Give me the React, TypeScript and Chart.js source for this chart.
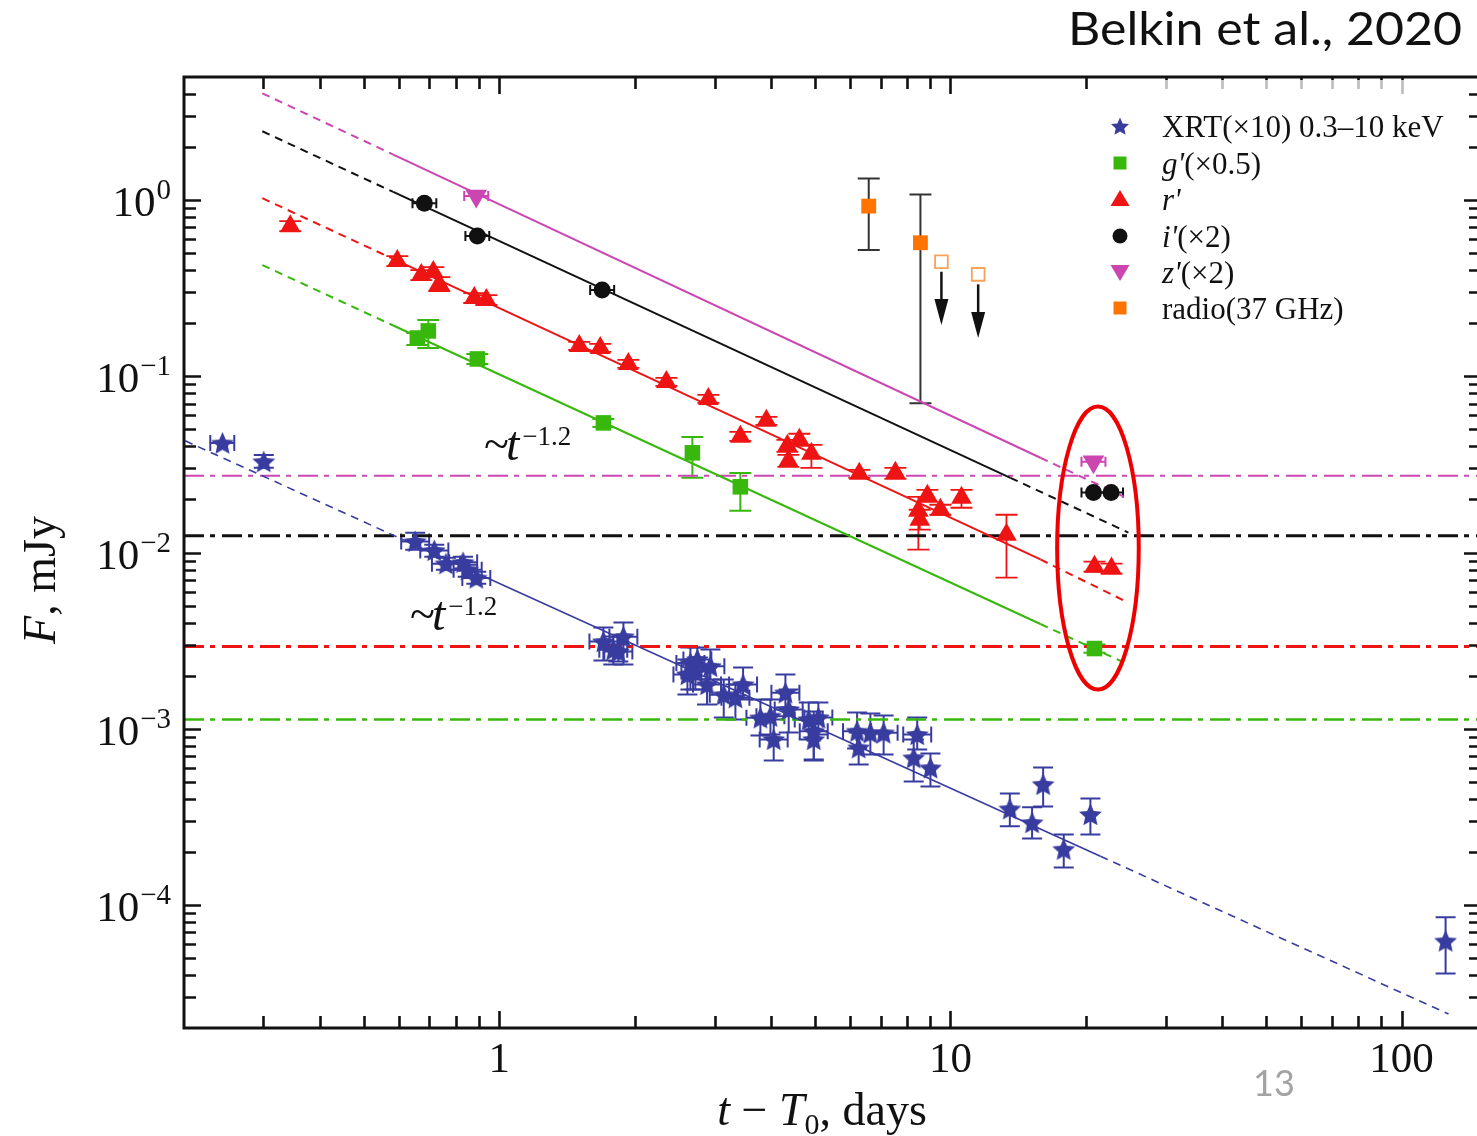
import React, { useEffect, useRef } from "react";
import { Chart, registerables } from "chart.js";

Chart.register(...registerables);

// ---------------- axis ranges & tick labels ----------------
const X_MIN = 0.2;
const X_MAX = 150;
const Y_MIN = 2e-5;
const Y_MAX = 5;
const yTickExps = [0, -1, -2, -3, -4];
const xTickLabels = [1, 10, 100];

// ---------------- XRT (x10) 0.3-10 keV ----------------
const xrtT = [0.2434, 0.3005, 0.651, 0.7176, 0.7616, 0.831, 0.851, 0.889, 1.701, 1.789, 1.884, 1.836, 2.652, 2.72, 2.612, 2.748, 2.937, 2.887, 3.144, 3.337, 3.47, 3.791, 3.99, 4.057, 4.307, 4.38, 4.851, 4.977, 4.977, 5.096, 6.21, 6.26, 6.645, 7.11, 8.44, 8.29, 9.03, 13.54, 16.05, 15.17, 17.83, 20.43, 125.2];
const xrtF = [0.0418, 0.0328, 0.01156, 0.01028, 0.00864, 0.00879, 0.00799, 0.00717, 0.00312, 0.00281, 0.00333, 0.00274, 0.00236, 0.00211, 0.00203, 0.00247, 0.00226, 0.00178, 0.00156, 0.0015, 0.00178, 0.001153, 0.001178, 0.000869, 0.0016, 0.001285, 0.001127, 0.000968, 0.000869, 0.001156, 0.000968, 0.00078, 0.000947, 0.000947, 0.000927, 0.000684, 0.0006, 3.51e-4, 4.83e-4, 2.93e-4, 2.07e-4, 3.26e-4, 6.24e-5];
const xrtFLo = [null, 0.0303, 0.01037, 0.00947, 0.00799, 0.0081, 0.00729, 0.00665, 0.002435, 0.002312, 0.002312, 0.002404, 0.001668, 0.001668, 0.001563, 0.001901, 0.001901, 0.001372, 0.001157, 0.001128, 0.001464, 0.000915, 0.000927, 0.00066, 0.001319, 0.000952, 0.000869, 0.000669, 0.00066, 0.000927, 0.000772, 0.000627, 0.000714, 0.000714, 0.000762, 0.000502, 0.00047, 2.79e-4, 3.62e-4, 2.38e-4, 1.63e-4, 2.51e-4, 4.08e-5];
const xrtFHi = [null, 0.0358, 0.01295, 0.01107, 0.00934, 0.00947, 0.00853, 0.00778, 0.003748, 0.003332, 0.004, 0.003001, 0.002886, 0.002468, 0.002468, 0.002886, 0.002812, 0.002223, 0.001901, 0.001781, 0.002223, 0.001464, 0.001464, 0.001128, 0.002029, 0.001668, 0.001408, 0.001252, 0.001128, 0.001408, 0.001235, 0.000952, 0.00122, 0.001188, 0.001157, 0.000869, 0.000723, 4.29e-4, 6.03e-4, 3.58e-4, 2.51e-4, 4.02e-4, 8.5e-5];
const xrtTLo = [0.2287, null, 0.606, 0.668, 0.709, 0.774, 0.792, 0.828, 1.584, 1.666, 1.754, 1.709, 2.469, 2.533, 2.432, 2.559, 2.735, 2.688, 2.927, 3.107, 3.231, 3.53, 3.715, 3.777, 4.01, 4.078, 4.517, 4.634, null, 4.745, 5.78, null, 6.187, 6.62, 7.859, null, null, null, null, null, null, null, null];
const xrtTHi = [0.2585, null, 0.699, 0.771, 0.818, 0.893, 0.914, 0.955, 1.827, 1.921, 2.023, 1.972, 2.848, 2.921, 2.805, 2.951, 3.154, 3.101, 3.377, 3.584, 3.727, 4.07, 4.285, 4.357, 4.626, 4.704, 5.21, 5.345, null, 5.473, 6.67, null, 7.137, 7.636, 9.065, null, null, null, null, null, null, null, null];

// ---------------- g' (x0.5) ----------------
const gT = [0.658, 0.696, 0.894, 1.701, 2.679, 3.422, 20.86];
const gF = [0.165, 0.181, 0.1255, 0.0544, 0.0368, 0.0236, 0.00285];
const gFLo = [0.1507, 0.145, 0.1176, 0.0516, 0.02655, 0.01726, 0.0027];
const gFHi = [0.1762, 0.209, 0.134, 0.0573, 0.0453, 0.0283, 0.003];

// ---------------- r' ----------------
const rT = [0.344, 0.594, 0.6715, 0.714, 0.736, 0.88, 0.936, 1.504, 1.674, 1.932, 2.346, 2.907, 3.422, 3.908, 4.351, 4.373, 4.625, 4.918, 6.28, 7.55, 8.49, 8.55, 8.89, 9.5, 10.58, 13.31, 20.86, 22.75];
const rF = [0.712, 0.451, 0.3757, 0.3907, 0.334, 0.278, 0.271, 0.1487, 0.1449, 0.1176, 0.0929, 0.0744, 0.04533, 0.0559, 0.0403, 0.0331, 0.0436, 0.0363, 0.02797, 0.02834, 0.01726, 0.01535, 0.021, 0.01748, 0.02045, 0.01262, 0.0083, 0.0081];
const rFLo = [0.667, 0.4224, 0.352, 0.366, 0.305, 0.2607, 0.254, 0.1411, 0.1375, 0.1116, 0.0882, 0.0707, 0.043, 0.053, 0.0373, 0.0306, 0.0403, 0.03025, 0.02655, 0.0262, 0.01037, 0.01347, 0.0194, 0.01638, 0.01795, 0.0072, 0.00778, 0.00758];
const rFHi = [0.76, 0.4814, 0.401, 0.417, 0.366, 0.297, 0.2893, 0.1567, 0.1527, 0.1239, 0.0979, 0.0784, 0.0484, 0.0588, 0.0436, 0.03584, 0.0472, 0.0408, 0.02947, 0.03025, 0.0207, 0.01748, 0.0227, 0.01866, 0.0227, 0.01638, 0.00887, 0.00864];

// ---------------- i' (x2) ----------------
const iT = [0.682, 0.894, 1.69, 20.75, 22.7];
const iF = [0.961, 0.625, 0.309, 0.0219, 0.0219];
const iTLo = [0.642, 0.841, 1.59, 19.52, 21.35];
const iTHi = [0.725, 0.95, 1.797, 22.06, 24.13];

// ---------------- z' (x2) ----------------
const zT = [0.889, 20.75];
const zF = [1.054, 0.0327];
const zTLo = [0.836, 19.52];
const zTHi = [0.945, 22.06];

// ---------------- radio (37 GHz) ----------------
const radioT = [6.59, 8.58];
const radioF = [0.925, 0.573];
const radioFLo = [0.5206, 0.0704];
const radioFHi = [1.327, 1.077];
const radioLimT = [9.55, 11.52];
const radioLimF = [0.447, 0.379];
const radioLimTip = [0.1956, 0.165];

// ---------------- power-law fits: dashed / solid / dashed break points ----------------
const fitXrtT = [0.2013, 0.6034, 21.5, 127.1];
const fitXrtF = [0.04303, 0.01202, 1.888e-4, 2.4e-5];
const fitZT = [0.2983, 0.582, 15.83, 24.8];
const fitZF = [4.04, 1.814, 0.0345, 0.0202];
const fitIT = [0.2983, 0.582, 13.58, 24.8];
const fitIF = [2.46, 1.113, 0.02655, 0.01298];
const fitRT = [0.2983, 0.582, 15.83, 24.8];
const fitRF = [1.026, 0.4636, 0.00913, 0.00519];
const fitGT = [0.2983, 0.582, 15.83, 24.8];
const fitGF = [0.428, 0.1943, 0.003928, 0.002312];

// ---------------- host-galaxy levels (dash-dot) ----------------
const hostZ = 0.02725;
const hostI = 0.01245;
const hostR = 0.002924;
const hostG = 0.001127;

// ---------------- highlighted late epoch (ellipse bounds) ----------------
const ellipseT = [17.24, 26.15];
const ellipseF = [0.001668, 0.0673];

// ---------------- styles ----------------
const BLUE = "#393c9f";
const GREEN = "#38b80c";
const RED = "#ee1414";
const BLACK = "#111111";
const PINK = "#cc46b2";
const ORANGE = "#ff7400";
const ORANGE_OPEN = "#f6a359";
const SERIF = '"Liberation Serif", "Times New Roman", serif';

function starPath(ctx: CanvasRenderingContext2D, cx: number, cy: number, R: number) {
  const r = R * 0.47;
  ctx.beginPath();
  for (let i = 0; i < 10; i++) {
    const a = -Math.PI / 2 + (i * Math.PI) / 5;
    const rr = i % 2 === 0 ? R : r;
    ctx.lineTo(cx + rr * Math.cos(a), cy + rr * Math.sin(a));
  }
  ctx.closePath();
}

function starCanvas(color: string, size: number) {
  const c = document.createElement("canvas");
  c.width = size;
  c.height = size;
  const ctx = c.getContext("2d")!;
  starPath(ctx, size / 2, size / 2 + 1, size / 2 - 0.5);
  ctx.fillStyle = color;
  ctx.fill();
  return c;
}

const pts = (xs: number[], ys: number[]) => xs.map((x, i) => ({ x, y: ys[i] }));

function drawRuns(ctx: CanvasRenderingContext2D, runs: [string, string][], x: number, y: number) {
  let cx = x;
  for (const [font, text] of runs) {
    ctx.font = font;
    ctx.fillText(text, cx, y);
    cx += ctx.measureText(text).width;
  }
  return cx;
}

function runsWidth(ctx: CanvasRenderingContext2D, runs: [string, string][]) {
  let w = 0;
  for (const [font, text] of runs) {
    ctx.font = font;
    w += ctx.measureText(text).width;
  }
  return w;
}

const decor = {
  id: "decor",
  beforeDatasetsDraw(chart: any) {
    const ctx: CanvasRenderingContext2D = chart.ctx;
    const xs = chart.scales.x;
    const ys = chart.scales.y;
    const a = chart.chartArea;
    ctx.save();
    ctx.beginPath();
    ctx.rect(a.left, a.top, a.right - a.left, a.bottom - a.top);
    ctx.clip();
    chart.data.datasets.forEach((ds: any) => {
      const eb = ds.errorBars;
      if (!eb) return;
      ctx.strokeStyle = eb.color;
      ctx.lineWidth = eb.lw;
      ds.data.forEach((p: any, i: number) => {
        const px = xs.getPixelForValue(p.x);
        const py = ys.getPixelForValue(p.y);
        ctx.beginPath();
        if (eb.yLo && eb.yLo[i] != null && eb.yHi[i] != null) {
          const y1 = ys.getPixelForValue(eb.yLo[i]);
          const y2 = ys.getPixelForValue(eb.yHi[i]);
          ctx.moveTo(px, y1);
          ctx.lineTo(px, y2);
          ctx.moveTo(px - eb.cap, y1);
          ctx.lineTo(px + eb.cap, y1);
          ctx.moveTo(px - eb.cap, y2);
          ctx.lineTo(px + eb.cap, y2);
        }
        if (eb.xLo && eb.xLo[i] != null && eb.xHi[i] != null) {
          const x1 = xs.getPixelForValue(eb.xLo[i]);
          const x2 = xs.getPixelForValue(eb.xHi[i]);
          ctx.moveTo(x1, py);
          ctx.lineTo(x2, py);
          ctx.moveTo(x1, py - eb.capX);
          ctx.lineTo(x1, py + eb.capX);
          ctx.moveTo(x2, py - eb.capX);
          ctx.lineTo(x2, py + eb.capX);
        }
        ctx.stroke();
      });
    });
    ctx.restore();
  },
  afterDatasetsDraw(chart: any) {
    const ctx: CanvasRenderingContext2D = chart.ctx;
    const xs = chart.scales.x;
    const ys = chart.scales.y;
    ctx.save();
    // upper-limit arrows
    ctx.strokeStyle = BLACK;
    ctx.fillStyle = BLACK;
    ctx.lineWidth = 2.5;
    radioLimT.forEach((t, i) => {
      const px = xs.getPixelForValue(t);
      const y0 = ys.getPixelForValue(radioLimF[i]) + 10;
      const tip = ys.getPixelForValue(radioLimTip[i]);
      ctx.beginPath();
      ctx.moveTo(px, y0);
      ctx.lineTo(px, tip - 20);
      ctx.stroke();
      ctx.beginPath();
      ctx.moveTo(px - 7, tip - 26);
      ctx.lineTo(px + 7, tip - 26);
      ctx.lineTo(px, tip);
      ctx.closePath();
      ctx.fill();
    });
    // ellipse
    const ex1 = xs.getPixelForValue(ellipseT[0]);
    const ex2 = xs.getPixelForValue(ellipseT[1]);
    const ey1 = ys.getPixelForValue(ellipseF[1]);
    const ey2 = ys.getPixelForValue(ellipseF[0]);
    ctx.strokeStyle = "#ee0000";
    ctx.lineWidth = 4;
    ctx.beginPath();
    ctx.ellipse((ex1 + ex2) / 2, (ey1 + ey2) / 2, (ex2 - ex1) / 2, (ey2 - ey1) / 2, 0, 0, Math.PI * 2);
    ctx.stroke();
    // slope annotations
    ctx.fillStyle = BLACK;
    ctx.textBaseline = "alphabetic";
    ctx.textAlign = "left";
    const ann = (x: number, y: number) => {
      ctx.font = `46px ${SERIF}`;
      ctx.fillText("~", x, y - 1);
      let cx = x + ctx.measureText("~").width - 3;
      ctx.font = `italic 48px ${SERIF}`;
      ctx.fillText("t", cx, y);
      cx += ctx.measureText("t").width + 3;
      ctx.font = `27px ${SERIF}`;
      ctx.fillText("\u22121.2", cx, y - 15);
    };
    ann(484, 460);
    ann(410, 630);
    ctx.restore();
  },
  afterDraw(chart: any) {
    const ctx: CanvasRenderingContext2D = chart.ctx;
    const xs = chart.scales.x;
    const ys = chart.scales.y;
    const { left, right, top, bottom } = chart.chartArea;
    ctx.save();
    ctx.strokeStyle = BLACK;
    ctx.lineWidth = 2.6;
    ctx.beginPath();
    // x ticks (bottom & top, inward)
    for (let e = -1; e <= 2; e++) {
      for (let m = 1; m <= 9; m++) {
        const v = m * Math.pow(10, e);
        if (v <= X_MIN * 1.001 || v >= X_MAX) continue;
        const px = Math.round(xs.getPixelForValue(v)) + 0.5;
        const len = m === 1 ? 17 : 12;
        ctx.moveTo(px, bottom);
        ctx.lineTo(px, bottom - len);
        ctx.moveTo(px, top);
        ctx.lineTo(px, top + len);
      }
    }
    // y ticks (left & right, inward)
    for (let e = -5; e <= 0; e++) {
      for (let m = 1; m <= 9; m++) {
        const v = m * Math.pow(10, e);
        if (v <= Y_MIN * 1.001 || v >= Y_MAX * 0.999) continue;
        const py = Math.round(ys.getPixelForValue(v)) + 0.5;
        const len = m === 1 ? 17 : 12;
        ctx.moveTo(left, py);
        ctx.lineTo(left + len, py);
        ctx.moveTo(right, py);
        ctx.lineTo(right - len, py);
      }
    }
    ctx.stroke();
    ctx.lineWidth = 3;
    ctx.strokeRect(left, top, right - left, bottom - top);

    // y tick labels
    ctx.fillStyle = BLACK;
    ctx.textBaseline = "alphabetic";
    ctx.textAlign = "left";
    const baseFont = `43px ${SERIF}`;
    const supFont = `29px ${SERIF}`;
    yTickExps.forEach((e) => {
      const py = ys.getPixelForValue(Math.pow(10, e));
      const sup = e === 0 ? "0" : "\u2212" + String(-e);
      ctx.font = supFont;
      const sw = ctx.measureText(sup).width;
      ctx.font = baseFont;
      const bw = ctx.measureText("10").width;
      const rx = 171;
      ctx.fillText("10", rx - sw - bw - 1, py + 16);
      ctx.font = supFont;
      ctx.fillText(sup, rx - sw, py - 1);
    });
    // x tick labels
    ctx.textAlign = "center";
    ctx.font = baseFont;
    xTickLabels.forEach((v) => {
      ctx.fillText(String(v), xs.getPixelForValue(v), 1072);
    });

    // x title
    ctx.textAlign = "left";
    const it = `italic 46px ${SERIF}`;
    const up = `46px ${SERIF}`;
    const xr1: [string, string][] = [[it, "t"], [up, " \u2212 "], [it, "T"]];
    const xr2: [string, string][] = [[up, ", days"]];
    const subFont = `30px ${SERIF}`;
    ctx.font = subFont;
    const subW = ctx.measureText("0").width;
    const totalW = runsWidth(ctx, xr1) + subW + runsWidth(ctx, xr2);
    let cx = 822 - totalW / 2;
    cx = drawRuns(ctx, xr1, cx, 1125);
    ctx.font = subFont;
    ctx.fillText("0", cx, 1134);
    cx += subW;
    drawRuns(ctx, xr2, cx, 1125);

    // y title
    ctx.save();
    ctx.translate(55, 580);
    ctx.rotate(-Math.PI / 2);
    const yr: [string, string][] = [[it, "F"], [up, ", mJy"]];
    const yw = runsWidth(ctx, yr);
    drawRuns(ctx, yr, -yw / 2, 0);
    ctx.restore();

    // legend
    ctx.fillStyle = "rgba(255,255,255,0.72)";
    ctx.fillRect(1096, 80, 366, 248);
    const lx = 1120;
    const tx = 1162;
    const rows = [126, 163, 199, 236, 272, 308];
    const lf = `31px ${SERIF}`;
    const lfi = `italic 31px ${SERIF}`;
    // markers
    ctx.fillStyle = BLUE;
    starPath(ctx, lx, rows[0] + 1, 9.5);
    ctx.fill();
    ctx.fillStyle = GREEN;
    ctx.fillRect(lx - 6.5, rows[1] - 6.5, 13, 13);
    ctx.fillStyle = RED;
    ctx.beginPath();
    ctx.moveTo(lx, rows[2] - 9);
    ctx.lineTo(lx + 9.5, rows[2] + 7);
    ctx.lineTo(lx - 9.5, rows[2] + 7);
    ctx.closePath();
    ctx.fill();
    ctx.fillStyle = BLACK;
    ctx.beginPath();
    ctx.arc(lx, rows[3], 7.5, 0, Math.PI * 2);
    ctx.fill();
    ctx.fillStyle = PINK;
    ctx.beginPath();
    ctx.moveTo(lx, rows[4] + 9);
    ctx.lineTo(lx + 9.5, rows[4] - 7);
    ctx.lineTo(lx - 9.5, rows[4] - 7);
    ctx.closePath();
    ctx.fill();
    ctx.fillStyle = ORANGE;
    ctx.fillRect(lx - 6.5, rows[5] - 6.5, 13, 13);
    // texts
    ctx.fillStyle = BLACK;
    const ly = (r: number) => rows[r] + 11;
    drawRuns(ctx, [[lf, "XRT(\u00d710) 0.3\u201310 keV"]], tx, ly(0));
    drawRuns(ctx, [[lfi, "g'"], [lf, "(\u00d70.5)"]], tx, ly(1));
    drawRuns(ctx, [[lfi, "r'"]], tx, ly(2));
    drawRuns(ctx, [[lfi, "i'"], [lf, "(\u00d72)"]], tx, ly(3));
    drawRuns(ctx, [[lfi, "z'"], [lf, "(\u00d72)"]], tx, ly(4));
    drawRuns(ctx, [[lf, "radio(37 GHz)"]], tx, ly(5));

    // header & page number
    ctx.fillStyle = "#111";
    ctx.font = `46px Lato, "Noto Sans", sans-serif`;
    const head = "Belkin et al., 2020";
    const hw = ctx.measureText(head).width;
    ctx.save();
    ctx.translate(1068, 45);
    ctx.scale(394 / hw, 1);
    ctx.fillText(head, 0, 0);
    ctx.restore();
    ctx.fillStyle = "#a3a3a3";
    ctx.font = `36px Lato, "Noto Sans", sans-serif`;
    ctx.textAlign = "center";
    ctx.fillText("13", 1274, 1096);
    ctx.restore();
  },
};

export default function App() {
  const ref = useRef<HTMLCanvasElement>(null);
  useEffect(() => {
    const canvas = ref.current!;
    const star = starCanvas(BLUE, 25);
    const fitDash = (c: any) => (c.p0DataIndex === 1 ? [] : [8, 6]);
    const hostLine = (label: string, v: number, color: string, w: number) => ({
      label,
      data: [
        { x: X_MIN, y: v },
        { x: X_MAX, y: v },
      ],
      showLine: true,
      borderColor: color,
      borderWidth: w,
      borderDash: [20, 6, 5, 7],
      pointRadius: 0,
      order: 40,
    });
    const fitLine = (label: string, t: number[], f: number[], color: string, w: number) => ({
      label,
      data: pts(t, f),
      showLine: true,
      borderColor: color,
      borderWidth: w,
      borderDash: [],
      segment: { borderDash: fitDash },
      pointRadius: 0,
      order: 30,
    });
    const datasets: any[] = [
      hostLine("host z'", hostZ, PINK, 2),
      hostLine("host i'", hostI, BLACK, 3),
      hostLine("host r'", hostR, RED, 3),
      hostLine("host g'", hostG, GREEN, 2.6),
      fitLine("fit XRT", fitXrtT, fitXrtF, BLUE, 1.6),
      fitLine("fit z'", fitZT, fitZF, PINK, 2),
      fitLine("fit i'", fitIT, fitIF, BLACK, 2),
      fitLine("fit r'", fitRT, fitRF, RED, 2),
      fitLine("fit g'", fitGT, fitGF, GREEN, 2),
      {
        label: "XRT(×10) 0.3–10 keV",
        data: pts(xrtT, xrtF),
        pointStyle: star,
        pointRadius: 12,
        backgroundColor: BLUE,
        borderColor: BLUE,
        order: 6,
        errorBars: { yLo: xrtFLo, yHi: xrtFHi, xLo: xrtTLo, xHi: xrtTHi, color: BLUE, lw: 2, cap: 10, capX: 8 },
      },
      {
        label: "g'(×0.5)",
        data: pts(gT, gF),
        pointStyle: "rect",
        pointRadius: 11,
        backgroundColor: GREEN,
        borderWidth: 0,
        order: 5,
        errorBars: { yLo: gFLo, yHi: gFHi, color: GREEN, lw: 2, cap: 11, capX: 6 },
      },
      {
        label: "r'",
        data: pts(rT, rF),
        pointStyle: "triangle",
        pointRadius: 12,
        backgroundColor: RED,
        borderWidth: 0,
        order: 4,
        errorBars: { yLo: rFLo, yHi: rFHi, color: RED, lw: 1.8, cap: 11, capX: 6 },
      },
      {
        label: "i'(×2)",
        data: pts(iT, iF),
        pointStyle: "circle",
        pointRadius: 8.5,
        backgroundColor: BLACK,
        borderWidth: 0,
        order: 3,
        errorBars: { xLo: iTLo, xHi: iTHi, color: BLACK, lw: 2, cap: 8, capX: 5 },
      },
      {
        label: "z'(×2)",
        data: pts(zT, zF),
        pointStyle: "triangle",
        rotation: 180,
        pointRadius: 12.5,
        backgroundColor: PINK,
        borderWidth: 0,
        order: 2,
        errorBars: { xLo: zTLo, xHi: zTHi, color: PINK, lw: 2, cap: 8, capX: 5 },
      },
      {
        label: "radio(37 GHz)",
        data: pts(radioT, radioF),
        pointStyle: "rect",
        pointRadius: 10.5,
        backgroundColor: ORANGE,
        borderWidth: 0,
        order: 1,
        errorBars: { yLo: radioFLo, yHi: radioFHi, color: "#333333", lw: 2, cap: 11, capX: 6 },
      },
      {
        label: "radio upper limits",
        data: pts(radioLimT, radioLimF),
        pointStyle: "rect",
        pointRadius: 9,
        backgroundColor: "#ffffff",
        borderColor: ORANGE_OPEN,
        borderWidth: 1.8,
        order: 1,
      },
    ];

    const chart = new Chart(canvas, {
      type: "scatter",
      data: { datasets },
      options: {
        responsive: false,
        animation: false,
        devicePixelRatio: 1,
        events: [],
        layout: { padding: { left: 184, top: 77, right: 1500 - 1481, bottom: 1136 - 1028 } },
        plugins: { legend: { display: false }, tooltip: { enabled: false } },
        scales: {
          x: { type: "logarithmic", min: X_MIN, max: X_MAX, display: false },
          y: { type: "logarithmic", min: Y_MIN, max: Y_MAX, display: false },
        },
      } as any,
      plugins: [decor as any],
    });
    return () => chart.destroy();
  }, []);

  return (
    <div
      style={{
        position: "fixed",
        left: 0,
        top: 0,
        width: 1477,
        height: 1136,
        overflow: "hidden",
        background: "#ffffff",
      }}
    >
      <canvas ref={ref} width={1500} height={1136} style={{ display: "block", width: 1500, height: 1136 }} />
    </div>
  );
}
